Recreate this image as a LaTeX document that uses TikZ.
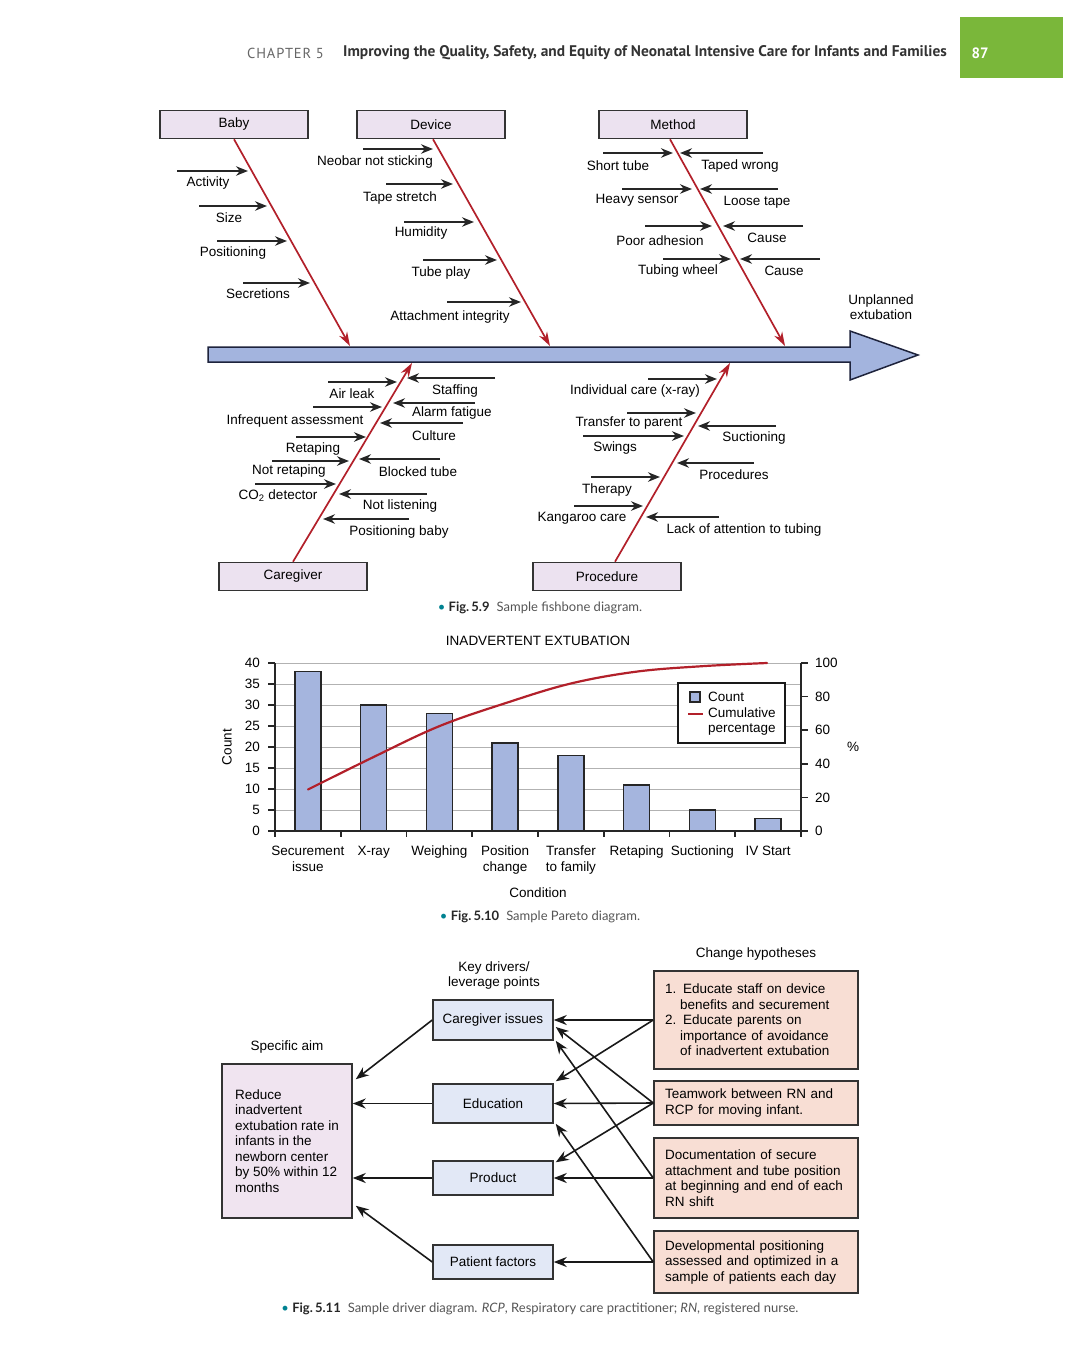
\documentclass[tikz,border=0pt]{standalone}
\usepackage{fontspec}
\setmainfont{Liberation Sans}
\newfontfamily\hdfont{PT Sans}
\newfontfamily\capfont{Lato}
\usetikzlibrary{arrows.meta,calc,positioning}

\definecolor{catfill}{RGB}{236,226,240}
\definecolor{spinefill}{RGB}{163,180,222}
\definecolor{spineedge}{RGB}{30,35,60}
\definecolor{bonered}{RGB}{178,32,42}
\definecolor{barblue}{RGB}{165,181,222}
\definecolor{drvfill}{RGB}{226,232,246}
\definecolor{aimfill}{RGB}{240,228,240}
\definecolor{chfill}{RGB}{248,222,212}
\definecolor{hdgreen}{RGB}{122,183,58}
\definecolor{capgray}{RGB}{85,85,85}
\definecolor{capteal}{RGB}{0,130,145}

\begin{document}
\begin{tikzpicture}[x=1pt, y=-1pt,
  txt/.style={inner sep=0pt, font=\fontsize{13.5}{15.5}\selectfont},
  catbox/.style={txt, draw=black!80, line width=1.5pt, fill=catfill,
                 minimum width=148pt, minimum height=28pt},
  bone/.style={bonered, line width=1.7pt, -{Stealth[length=14pt, width=9pt]}},
  cause/.style={black!85, line width=1.8pt, -{Stealth[length=12pt, width=9.5pt]}},
  grid/.style={black!30, line width=1pt},
  axis/.style={black!85, line width=1.6pt},
  bar/.style={draw=black!85, line width=1.4pt, fill=barblue},
  drvbox/.style={txt, draw=black!80, line width=1.5pt, fill=drvfill,
                 minimum width=120pt},
  chbox/.style={txt, draw=black!80, line width=1.5pt, fill=chfill,
                minimum width=204pt, text width=182pt, align=left, inner xsep=11pt},
  link/.style={black!90, line width=1.6pt, -{Stealth[length=13pt, width=10pt]}},
  caption/.style={inner sep=0pt, font=\capfont\fontsize{13}{15}\selectfont, text=capgray}]

\useasboundingbox (0,0) rectangle (1080,1372);

% page header
\fill[hdgreen] (960,17) rectangle (1063,78);
\node[inner sep=0pt, font=\hdfont\bfseries\fontsize{15}{17}\selectfont, text=white] (pagenum) at (980,53) {87};
\node[inner sep=0pt, anchor=west, font=\hdfont\fontsize{14.5}{16}\selectfont\addfontfeature{LetterSpace=6}, text=black!60] (chap) at (247,53) {CHAPTER 5};
\node[inner sep=0pt, anchor=west, font=\hdfont\bfseries\fontsize{15.4}{17}\selectfont, text=black!80] (title) at (343,53)
  {Improving the Quality, Safety, and Equity of Neonatal Intensive Care for Infants and Families};

% fishbone
\draw[line width=1.5pt, draw=spineedge, fill=spinefill, line join=miter]
  (208,347) -- (850,347) -- (850,331) -- (918,355) -- (850,380) -- (850,362) -- (208,362) -- cycle;

\node[catbox] (baby) at (234,124.5) {Baby};
\node[catbox] (device) at (431,124.5) {Device};
\node[catbox] (method) at (673,124.5) {Method};
\node[catbox] (carer) at (293,576.5) {Caregiver};
\node[catbox] (proc) at (607,576.5) {Procedure};

\coordinate (hbaby) at (350,346);
\coordinate (hdevice) at (550,346);
\coordinate (hmethod) at (785,346);
\coordinate (hcarer) at (412,363);
\coordinate (hproc) at (730,363);

\draw[bone] (baby.south) -- (hbaby);
\draw[bone] ([xshift=2pt]device.south) -- (hdevice);
\draw[bone] ([xshift=-3pt]method.south) -- (hmethod);
\draw[bone] (carer.north) -- (hcarer);
\draw[bone] ([xshift=8pt]proc.north) -- (hproc);

\node[txt, align=center] (effect) at (881,307) {Unplanned\\extubation};

\foreach \xa/\xb/\ya/\lx/\ly/\what [count=\k] in {
  177/248/171/208/183/{Activity},
  199/267/206/229/218/{Size},
  217/287/241/233/253/{Positioning},
  243/310/283/258/294/{Secretions},
  363/433/149/375/162/{Neobar not sticking},
  386/453/184/400/198/{Tape stretch},
  404/474/222/421/233/{Humidity},
  423/497/260/441/273/{Tube play},
  447/521/302/450/317/{Attachment integrity},
  603/673/153/618/166/{Short tube},
  763/680/153/740/166/{Taped wrong},
  622/692/189/637/200/{Heavy sensor},
  778/700/189/757/202/{Loose tape},
  645/712/226/660/241/{Poor adhesion},
  803/723/226/767/238/{Cause},
  663/731/259/678/271/{Tubing wheel},
  820/740/259/784/271/{Cause},
  328/397/382/352/394/{Air leak},
  495/407/378/455/391/{Staffing},
  313/382/407/295/421/{Infrequent assessment},
  475/393/403/452/413/{Alarm fatigue},
  463/380/423/434/436/{Culture},
  296/366/437/313/449/{Retaping},
  272/349/461/289/471/{Not retaping},
  440/359/459/418/472/{Blocked tube},
  255/336/484/278/496/{CO\textsubscript{2} detector},
  427/339/494/400/506/{Not listening},
  409/323/519/399/532/{Positioning baby},
  648/717/379/635/391/{Individual care (x-ray)},
  627/696/413/629/423/{Transfer to parent},
  583/684/436/615/448/{Swings},
  776/698/426/754/438/{Suctioning},
  754/677/463/734/475/{Procedures},
  591/660/477/607/490/{Therapy},
  574/643/506/582/518/{Kangaroo care},
  719/646/517/744/530/{Lack of attention to tubing}}
{
  \coordinate (cs\k) at (\xa,\ya);
  \coordinate (ce\k) at (\xb,\ya);
  \draw[cause] (cs\k) -- (ce\k);
  \node[txt] (cl\k) at (\lx,\ly) {\what};
}

\node[caption] (cap1) at (540,608) {{\color{capteal}\textbullet}\ \textbf{\color{black!85}Fig.\,5.9}\hspace{7pt}Sample fishbone diagram.};

% pareto chart
\node[txt] (ptitle) at (538,641) {INADVERTENT EXTUBATION};
\foreach \k in {1,...,8}
  \draw[grid] (275,{831-\k*21}) -- (801,{831-\k*21});
\foreach \c/\h [count=\i] in {1/38,2/30,3/28,4/21,5/18,6/11,7/5,8/3}
  \draw[bar] ({275+(\i-0.5)*65.75-13},831) rectangle ++(26,{-\h*4.2});
\draw[bonered, line width=2.2pt, line cap=round] plot[smooth, tension=0.6] coordinates
  {(308,789.5) (374,756.8) (439,726.3) (505,703.3) (570,683.7) (636,671.7) (702,666.2) (767,663)};
\draw[axis] (275,663) -- (275,831) -- (801,831) -- (801,663);
\foreach \v in {0,5,...,40}
{
  \draw[axis] (268,{831-\v*4.2}) -- (275,{831-\v*4.2});
  \node[txt, anchor=east] (ly\v) at (260,{831-\v*4.2}) {\v};
}
\foreach \p in {0,20,...,100}
{
  \draw[axis] (801,{831-\p*1.68}) -- (808,{831-\p*1.68});
  \node[txt, anchor=west] (ry\p) at (815,{831-\p*1.68}) {\p};
}
\foreach \i in {0,...,8}
  \draw[axis] ({275+\i*65.75},831) -- ({275+\i*65.75},837);
\foreach \what [count=\i] in {{Securement\\issue},{X-ray},{Weighing},{Position\\change},{Transfer\\to family},{Retaping},{Suctioning},{IV Start}}
  \node[txt, align=center, anchor=north] (cat\i) at ({275+(\i-0.5)*65.75},846) {\what};
\node[txt, rotate=90] (ylab) at (227,747) {Count};
\node[txt] (plab) at (853,747) {\%};
\node[txt] (xlab) at (538,893) {Condition};

\draw[black!90, line width=1.6pt, fill=white] (678,683) rectangle (785,743);
\draw[bar, line width=1.2pt] (690,692) rectangle (700,702);
\draw[bonered, line width=2.2pt] (688,714) -- (703,714);
\node[txt, anchor=west] (lgcount) at (708,697) {Count};
\node[txt, anchor=west, align=left] (lgcum) at (708,721.5) {Cumulative\\percentage};

\node[caption] (cap2) at (540,917) {{\color{capteal}\textbullet}\ \textbf{\color{black!85}Fig.\,5.10}\hspace{7pt}Sample Pareto diagram.};

% driver diagram
\node[txt] (hch) at (756,954) {Change hypotheses};
\node[txt, align=center] (hkey) at (494,975.5) {Key drivers/\\leverage points};
\node[txt] (haim) at (287,1047) {Specific aim};

\node[txt, draw=black!80, line width=1.5pt, fill=aimfill, minimum width=130pt, minimum height=154pt, align=left] (aim) at (287,1141)
  {Reduce\\inadvertent\\extubation rate in\\infants in the\\newborn center\\by 50\% within 12\\months};

\node[drvbox, minimum height=40pt] (cg) at (493,1020) {Caregiver issues};
\node[drvbox, minimum height=39pt] (edu) at (493,1103.5) {Education};
\node[drvbox, minimum height=34pt] (prod) at (493,1178) {Product};
\node[drvbox, minimum height=34pt] (pf) at (493,1262) {Patient factors};

\node[chbox, minimum height=98pt] (ch1) at (756,1020)
  {1. Educate staff on device\\\hspace*{15pt}benefits and securement\\2. Educate parents on\\\hspace*{15pt}importance of avoidance\\\hspace*{15pt}of inadvertent extubation};
\node[chbox, minimum height=44pt] (ch2) at (756,1103) {Teamwork between RN and\\RCP for moving infant.};
\node[chbox, minimum height=80pt] (ch3) at (756,1178)
  {Documentation of secure\\attachment and tube position\\at beginning and end of each\\RN shift};
\node[chbox, minimum height=62pt] (ch4) at (756,1262)
  {Developmental positioning\\assessed and optimized in a\\sample of patients each day};

\draw[link] (cg.west) -- ($(aim.north east)+(3,16)$);
\draw[link] (edu.west) -- (aim.east |- edu.west);
\draw[link] (prod.west) -- (aim.east |- prod.west);
\draw[link] (pf.west) -- ($(aim.south east)+(3,-13)$);

\draw[link] (ch1.west) -- (cg.east);
\draw[link] (ch1.west) -- ($(edu.north east)+(2,-2)$);
\draw[link] (ch2.west) -- (edu.east);
\draw[link] (ch2.west) -- ($(cg.east)+(2,7)$);
\draw[link] (ch2.west) -- ($(prod.north east)+(2,2)$);
\draw[link] (ch3.west) -- (prod.east);
\draw[link] (ch3.west) -- ($(cg.south east)+(2,0)$);
\draw[link] (ch4.west) -- (pf.east);
\draw[link] (ch4.west) -- ($(edu.south east)+(2,0)$);

\node[caption] (cap3) at (540,1309) {{\color{capteal}\textbullet}\ \textbf{\color{black!85}Fig.\,5.11}\hspace{7pt}Sample driver diagram. \textit{RCP}, Respiratory care practitioner; \textit{RN}, registered nurse.};

\end{tikzpicture}
\end{document}
